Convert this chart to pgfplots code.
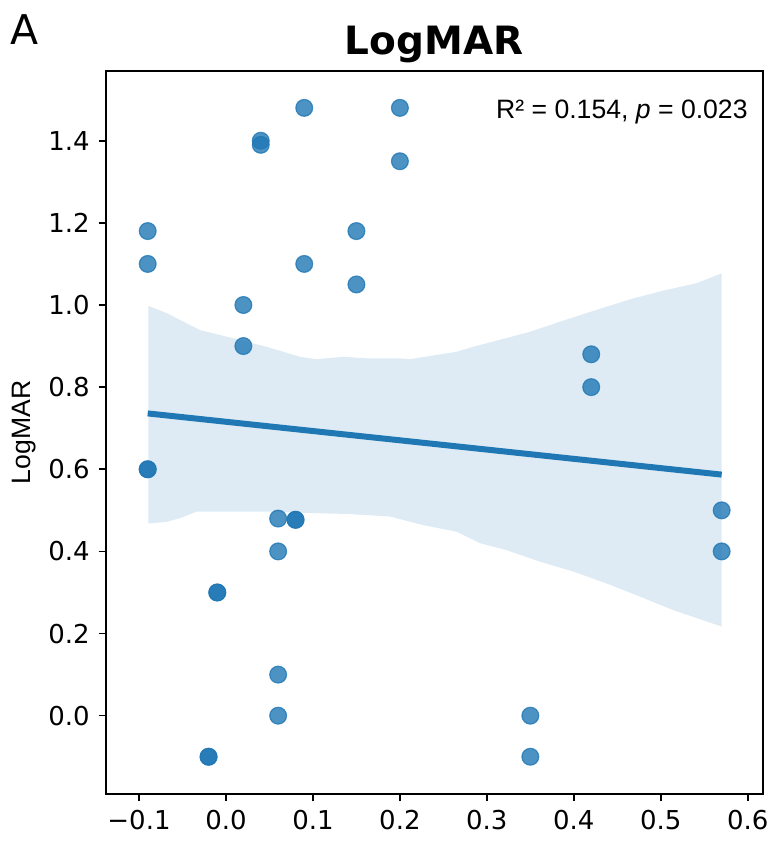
\documentclass[border=0pt]{standalone}
\usepackage{pgfplots}
\pgfplotsset{compat=1.18}
\usepackage{fontspec}
\setmainfont{DejaVu Sans}
\newfontfamily\arial{Liberation Sans}
\definecolor{mplblue}{HTML}{1F77B4}
\begin{document}
\begin{tikzpicture}
\useasboundingbox (0,0) rectangle (387.5pt,420.5pt);
\begin{axis}[
  at={(52.85pt,23.5pt)}, anchor=south west,
  scale only axis, width=328.5pt, height=361.5pt,
  xmin=-0.1383, xmax=0.6172, ymin=-0.1907, ymax=1.5698,
  axis line style={line width=0.85pt},
  tick align=outside, xtick pos=bottom, ytick pos=left,
  major tick length=3.5pt,
  tick style={line width=0.8pt, black},
  xtick={-0.1,0,0.1,0.2,0.3,0.4,0.5,0.6},
  xticklabels={−0.1,0.0,0.1,0.2,0.3,0.4,0.5,0.6},
  ytick={0,0.2,0.4,0.6,0.8,1.0,1.2,1.4},
  yticklabels={0.0,0.2,0.4,0.6,0.8,1.0,1.2,1.4},
  ticklabel style={font=\fontsize{13}{15}\selectfont},
  xticklabel style={yshift=-1pt},
  yticklabel style={xshift=-1pt},
  clip=true,
]
% confidence band
\addplot[draw=none, fill=mplblue, fill opacity=0.15] coordinates {
(-0.0893,0.998) (-0.068,0.980) (-0.030,0.939) (0.008,0.919) (0.047,0.898)
(0.085,0.874) (0.104,0.868) (0.135,0.874) (0.162,0.870) (0.200,0.870)
(0.212,0.868) (0.235,0.876) (0.265,0.886) (0.284,0.898) (0.311,0.913)
(0.350,0.935) (0.388,0.962) (0.426,0.988) (0.465,1.014) (0.503,1.035)
(0.541,1.053) (0.570,1.077)
(0.570,0.217) (0.5144,0.257) (0.4761,0.290) (0.4378,0.322) (0.3994,0.351)
(0.3611,0.375) (0.3228,0.403) (0.2921,0.420) (0.2653,0.448) (0.2269,0.464)
(0.1886,0.485) (0.1426,0.491) (0.1043,0.493) (0.0468,0.497) (0.0084,0.497)
(-0.0336,0.497) (-0.0529,0.481) (-0.0681,0.472) (-0.0893,0.468)
} -- cycle;
% scatter
\addplot[only marks, mark=*, mark size=4.2pt,
  mark options={fill=mplblue, draw=mplblue, line width=0.6pt, fill opacity=0.8, draw opacity=0.8}]
coordinates {
(-0.09,1.18) (-0.09,1.10) (-0.09,0.60) (-0.09,0.60)
(-0.02,-0.10) (-0.02,-0.10)
(-0.01,0.30) (-0.01,0.30)
(0.02,1.00) (0.02,0.90)
(0.04,1.40) (0.04,1.39)
(0.06,0.48) (0.06,0.40) (0.06,0.10) (0.06,0.00)
(0.08,0.477) (0.08,0.477)
(0.09,1.48) (0.09,1.10)
(0.15,1.18) (0.15,1.05)
(0.20,1.48) (0.20,1.35)
(0.35,0.00) (0.35,-0.10)
(0.42,0.88) (0.42,0.80)
(0.57,0.50) (0.57,0.40)
};
% regression line
\addplot[mplblue, line width=3pt, no marks] coordinates {(-0.09,0.736) (0.57,0.587)};
\end{axis}
\node[anchor=base, font=\fontsize{19.5}{22}\selectfont\bfseries] at (217.1pt,393pt) {LogMAR};
\node[anchor=base west, inner sep=0pt, font=\fontsize{20.5}{24}\selectfont] at (5pt,398pt) {A};
\node[anchor=east, inner sep=0pt, font=\arial\fontsize{13.3}{15}\selectfont] at (374pt,364.5pt) {R² = 0.154, \textit{p} = 0.023};
\node[rotate=90, anchor=center, inner sep=0pt, font=\arial\fontsize{13.3}{15}\selectfont] at (12pt,204.25pt) {LogMAR};
\end{tikzpicture}
\end{document}
